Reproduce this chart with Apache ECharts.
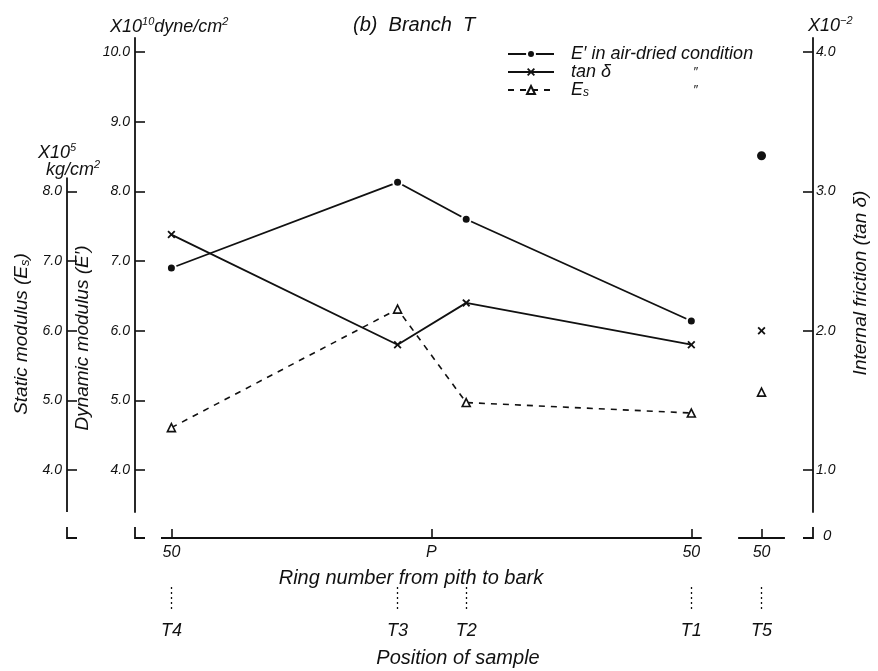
<!DOCTYPE html>
<html>
<head>
<meta charset="utf-8">
<title>Branch T</title>
<script src="https://cdn.jsdelivr.net/npm/echarts@6/dist/echarts.min.js"></script>
<style>
  html, body { margin: 0; padding: 0; background: #fff; }
  #chart { width: 878px; height: 671px; }
</style>
</head>
<body>
<div id="chart"></div>
<script>
// samples along the ring axis (negative side = towards T4, 0 = pith)
const sampleNames = ['T4', 'T3', 'T2', 'T1', 'T5'];
const samplePos = [-50, -6.5, 6.7, 50, 63.5];
const connectedCount = 4; // T5 stands apart, not joined to the others

// measured values
const dynamicModulus = [6.9, 8.13, 7.6, 6.14, 8.51];   // E'  x10^10 dyne/cm2
const tanDelta = [2.69, 1.9, 2.2, 1.9, 2.0];           // tan d x10^-2
const staticModulus = [4.61, 6.31, 4.97, 4.82, 5.12];  // Es  x10^5 kg/cm2

// tick labels
const ringTickPos = [-50, 0, 50, 63.5];
const ringTickLabels = ['50', 'P', '50', '50'];
const dynTicks = [4, 5, 6, 7, 8, 9, 10];
const staticTicks = [4, 5, 6, 7, 8];
const tanTicks = [1, 2, 3, 4];

const FONT = 'Liberation Sans';
const ink = '#111';
const nameE = "E' in air-dried condition";
const nameTan = 'tan δ';
const nameEs = 'Es';

// "x" marker as a filled outline
const crossPath = 'path://M0,1.6L1.6,0L5,3.4L8.4,0L10,1.6L6.6,5L10,8.4L8.4,10L5,6.6L1.6,10L0,8.4L3.4,5Z';

const chart = echarts.init(document.getElementById('chart'));

const pairs = (vals, from, to) =>
  samplePos.slice(from, to).map((x, i) => [x, vals[from + i]]);

const txt = (size, extra) => Object.assign({
  fontFamily: FONT, fontStyle: 'italic', fontSize: size, color: ink
}, extra || {});

// builds the joined line + the lone T5 point for one quantity
function makeSeries(name, vals, yIdx, marker, loneSize) {
  const joined = Object.assign({
    name: name,
    type: 'line',
    xAxisIndex: 0,
    yAxisIndex: yIdx,
    data: pairs(vals, 0, connectedCount),
    animation: false,
    z: 3
  }, marker);
  const lone = Object.assign({}, joined, {
    type: 'scatter',
    symbolSize: loneSize || marker.symbolSize,
    data: pairs(vals, connectedCount, vals.length)
  });
  delete lone.lineStyle;
  return [joined, lone];
}

const series = [].concat(
  makeSeries(nameE, dynamicModulus, 0, {
    symbol: 'circle', symbolSize: 9,
    itemStyle: { color: ink, opacity: 1, borderColor: '#fff', borderWidth: 2 },
    lineStyle: { color: ink, width: 1.8 }
  }, 11),
  makeSeries(nameTan, tanDelta, 2, {
    symbol: crossPath, symbolSize: 8,
    itemStyle: { color: ink, opacity: 1 },
    lineStyle: { color: ink, width: 1.8 }
  }),
  makeSeries(nameEs, staticModulus, 1, {
    symbol: 'triangle', symbolSize: 8,
    itemStyle: { color: '#fff', opacity: 1, borderColor: ink, borderWidth: 1.6 },
    lineStyle: { color: ink, width: 1.6, type: [6, 6] }
  })
);

const yBase = {
  type: 'value',
  splitLine: { show: false },
  axisLine: { show: true, onZero: false, lineStyle: { color: ink, width: 1.8 } }
};

const option = {
  backgroundColor: '#fff',
  animation: false,
  grid: { left: 135, right: 65, top: 38, bottom: 159, containLabel: false },
  legend: {
    orient: 'vertical',
    left: 502,
    top: 40,
    itemWidth: 46,
    itemHeight: 10,
    itemGap: 0,
    selectedMode: false,
    data: [nameE, nameTan, nameEs],
    formatter: name => {
      if (name === nameE) return "{f|E′ in air-dried condition}";
      if (name === nameTan) return '{a|tan δ}{d|″}';
      return '{e|E}{s|s}{d|″}';
    },
    textStyle: {
      rich: {
        f: txt(18, { padding: [0, 0, 0, 12], lineHeight: 18 }),
        a: txt(18, { width: 122, padding: [0, 0, 0, 12], lineHeight: 18 }),
        e: txt(18, { padding: [0, 0, 0, 12], lineHeight: 18 }),
        s: txt(12, { width: 110, verticalAlign: 'bottom', lineHeight: 14 }),
        d: txt(13, { lineHeight: 18 })
      }
    }
  },
  xAxis: [
    {
      type: 'value',
      min: -57,
      max: 73.4,
      position: 'bottom',
      offset: 26,
      axisLine: { show: false, onZero: false },
      splitLine: { show: false },
      axisTick: {
        inside: true, length: 9, customValues: ringTickPos,
        lineStyle: { color: ink, width: 1.6 }
      },
      axisLabel: {
        customValues: ringTickPos,
        margin: 7,
        formatter: v => ringTickLabels[ringTickPos.indexOf(v)] || '',
        ...txt(16)
      }
    },
    {
      type: 'value',
      min: -57,
      max: 73.4,
      position: 'bottom',
      offset: 75,
      axisLine: { show: false, onZero: false },
      splitLine: { show: false },
      axisTick: {
        inside: false, length: 23, customValues: samplePos,
        lineStyle: { color: ink, width: 1.3, type: [2, 3] }
      },
      axisLabel: {
        customValues: samplePos,
        margin: 35,
        formatter: v => sampleNames[samplePos.indexOf(v)] || '',
        ...txt(18)
      }
    }
  ],
  yAxis: [
    Object.assign({}, yBase, {
      // E' (dynamic modulus)
      position: 'left',
      min: 3.4,
      max: 10.2,
      axisTick: {
        inside: true, length: 10, customValues: dynTicks,
        lineStyle: { color: ink, width: 1.6 }
      },
      axisLabel: {
        customValues: dynTicks, margin: 5,
        formatter: v => v.toFixed(1), ...txt(14)
      },
      name: "Dynamic modulus (E′)",
      nameLocation: 'middle',
      nameRotate: 90,
      nameGap: 30,
      nameTextStyle: txt(19, { padding: [0, 126, 0, 0] })
    }),
    Object.assign({}, yBase, {
      // Es (static modulus) – same pixel scale as E'
      position: 'left',
      offset: 68,
      min: 3.4,
      max: 10.2,
      axisLine: { show: false, onZero: false },
      axisTick: {
        inside: true, length: 10, customValues: staticTicks,
        lineStyle: { color: ink, width: 1.6 }
      },
      axisLabel: {
        customValues: staticTicks, margin: 5,
        formatter: v => v.toFixed(1), ...txt(14)
      },
      name: 'Static modulus (E{s|s})',
      nameLocation: 'middle',
      nameRotate: 90,
      nameGap: 35,
      nameTextStyle: txt(19, {
        padding: [0, 118, 0, 0],
        rich: { s: txt(13, { verticalAlign: 'bottom' }) }
      })
    }),
    Object.assign({}, yBase, {
      // tan delta
      position: 'right',
      min: 0.7,
      max: 4.1,
      axisTick: {
        inside: true, length: 10, customValues: tanTicks,
        lineStyle: { color: ink, width: 1.6 }
      },
      axisLabel: {
        customValues: tanTicks, margin: 3,
        formatter: v => v.toFixed(1), ...txt(14)
      },
      name: 'Internal friction (tan δ)',
      nameLocation: 'middle',
      nameRotate: 90,
      nameGap: 38,
      nameTextStyle: txt(19, { padding: [0, 16, 0, 0] })
    })
  ],
  series: series
};

chart.setOption(option);

// axis decorations (broken axes, brackets, unit notes) placed from the scales
const px = v => chart.convertToPixel({ xAxisIndex: 0 }, v);
const py = v => chart.convertToPixel({ yAxisIndex: 0 }, v);
const xLeft = px(-57);
const xRight = px(73.4);
const xStatic = xLeft - 68;
const yBottom = py(3.4);
const yAxisBase = yBottom + 26;
const stroke = { stroke: ink, lineWidth: 1.8, fill: null };

const line = (x1, y1, x2, y2) => ({
  type: 'line', shape: { x1, y1, x2, y2 }, style: stroke, silent: true
});
const poly = pts => ({
  type: 'polyline', shape: { points: pts }, style: stroke, silent: true
});
const label = (x, y, text, size, align, rich) => ({
  type: 'text', x: x, y: y, silent: true,
  style: {
    text: text, fill: ink, fontFamily: FONT, fontStyle: 'italic',
    fontSize: size, align: align || 'left', verticalAlign: 'middle',
    rich: rich
  }
});
const supRich = {
  m: { fontFamily: FONT, fontStyle: 'italic', fontSize: 18, fill: ink, lineHeight: 22 },
  sup: { fontFamily: FONT, fontStyle: 'italic', fontSize: 11, fill: ink, verticalAlign: 'top', lineHeight: 22 }
};

chart.setOption({
  graphic: [
    // static modulus axis line (only up to about 8.2)
    line(xStatic, py(8.2), xStatic, yBottom),
    // broken axis brackets
    poly([[xStatic, yAxisBase - 11], [xStatic, yAxisBase], [xStatic + 10, yAxisBase]]),
    poly([[xLeft, yAxisBase - 11], [xLeft, yAxisBase], [xLeft + 10, yAxisBase]]),
    poly([[xRight - 10, yAxisBase], [xRight, yAxisBase], [xRight, yAxisBase - 11]]),
    // ring axis, split before T5
    line(px(-52), yAxisBase, px(52), yAxisBase),
    line(px(59), yAxisBase, px(68), yAxisBase),
    label(xRight + 10, yAxisBase - 2, '0', 15),
    // units and titles
    label(110, 27, '{m|X10}{sup|10}{m|dyne/cm}{sup|2}', 18, 'left', supRich),
    label(353, 25, '(b)  Branch  T', 20),
    label(38, 153, '{m|X10}{sup|5}', 16, 'left', supRich),
    label(46, 170, '{m|kg/cm}{sup|2}', 16, 'left', supRich),
    label(808, 26, '{m|X10}{sup|−2}', 16, 'left', supRich),
    label(411, 578, 'Ring number from pith to bark', 20, 'center'),
    label(458, 658, 'Position of sample', 20, 'center')
  ]
});

window.addEventListener('resize', () => chart.resize());
</script>
</body>
</html>
